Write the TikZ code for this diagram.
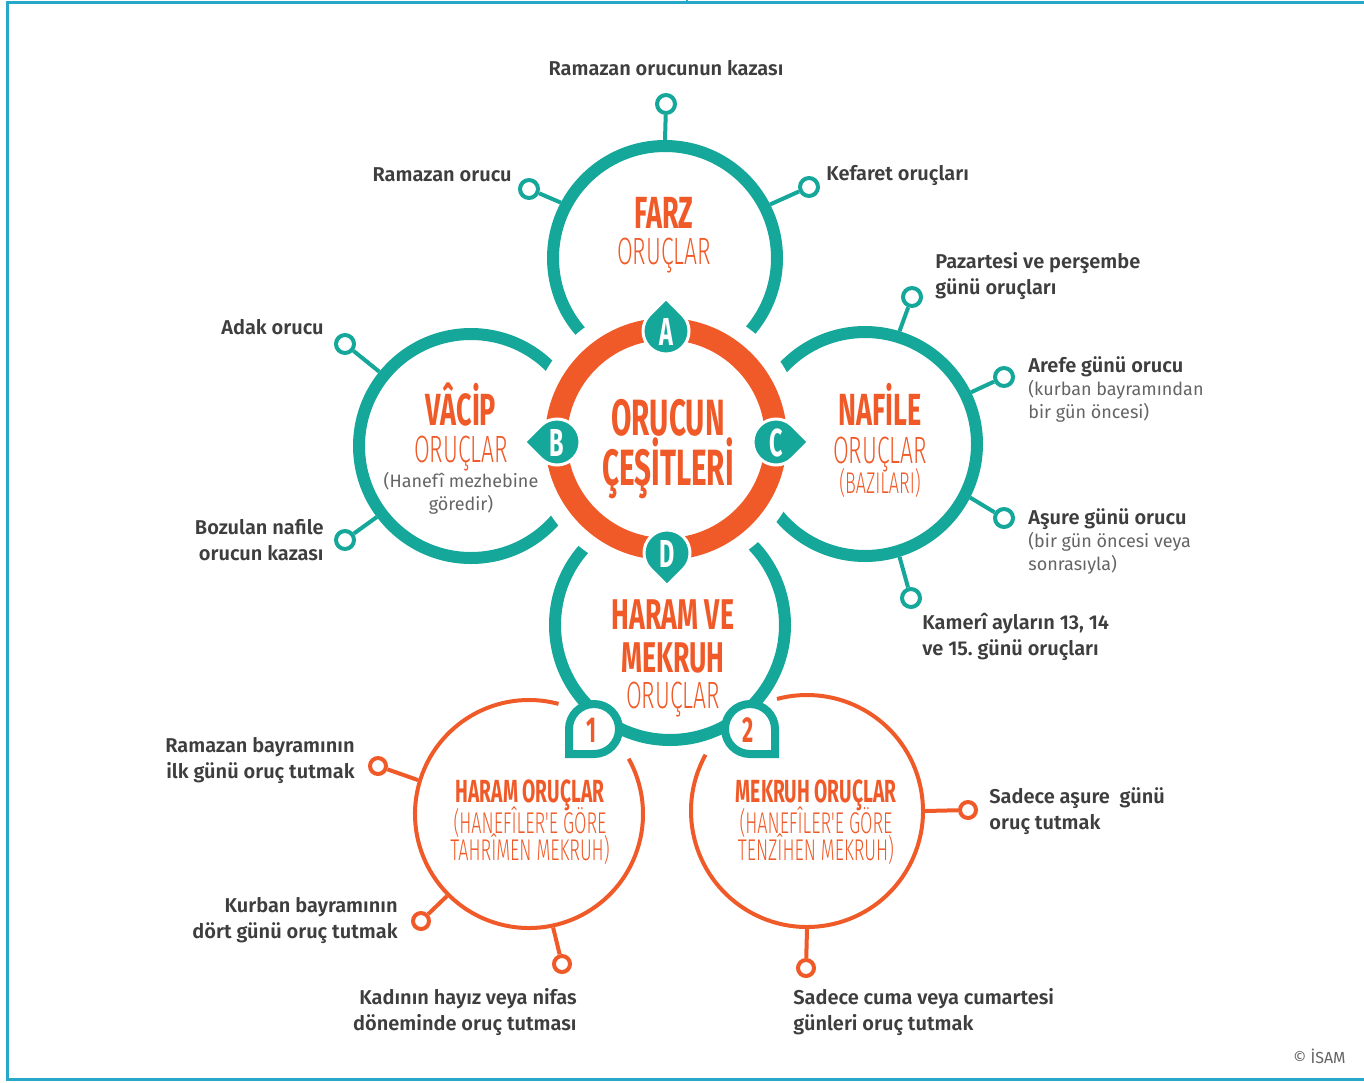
\documentclass[tikz,border=0pt]{standalone}
\usepackage{fontspec}
\setmainfont{Fira Sans}
\newfontfamily\fbold{Fira Sans Bold}
\newfontfamily\flight{Fira Sans Light}
\newfontfamily\fsemi{Fira Sans SemiBold}
\definecolor{tl}{RGB}{20,167,154}
\definecolor{org}{RGB}{240,90,40}
\definecolor{dk}{RGB}{62,62,62}
\definecolor{gr}{RGB}{100,100,100}
\definecolor{bd}{RGB}{40,168,200}
\newcommand\cn[2][0.6]{\scalebox{#1}[1]{#2}}
\newcommand\dropshape[4]{%
  \path[#1, shift={#2}] (#4:{1.4142*#3}) -- ({#4+45}:#3) arc[start angle={#4+45}, delta angle=270, radius=#3] -- cycle;}
\frenchspacing
\begin{document}
\begin{tikzpicture}[x=0.5pt,y=0.5pt,
  bigT/.style={circle,draw=tl,line width=6pt,inner sep=0,minimum size=#1},
  ghostO/.style={circle,line width=2pt,inner sep=0,minimum size=#1},
  tdot/.style={circle,draw=tl,fill=white,line width=2pt,inner sep=0,minimum size=9pt},
  odot/.style={circle,draw=org,fill=white,line width=2pt,inner sep=0,minimum size=8pt},
  tconn/.style={draw=tl,line width=2pt},
  oconn/.style={draw=org,line width=2pt},
  lab/.style={font={\fsemi\fontsize{10}{13}\selectfont},text=dk,inner sep=0},
  gl/.style={font={\fontsize{9}{11.5}\selectfont},text=gr,inner sep=0},
  hB/.style={font={\fbold\fontsize{22.5}{24}\selectfont},text=org,inner sep=0,anchor=base},
  hBs/.style={font={\fbold\fontsize{21.5}{23}\selectfont},text=org,inner sep=0,anchor=base},
  hL/.style={font={\flight\fontsize{19}{20}\selectfont},text=org,inner sep=0,anchor=base},
  hS/.style={font={\flight\fontsize{15}{16}\selectfont},text=org,inner sep=0,anchor=base},
  hM/.style={font={\fbold\fontsize{16}{17}\selectfont},text=org,inner sep=0,anchor=base},
  hC/.style={font={\fbold\fontsize{25.5}{27}\selectfont},text=org,inner sep=0,anchor=base},
  letW/.style={font={\fbold\fontsize{19.5}{20}\selectfont},text=white,inner sep=0,anchor=base},
  numO/.style={font={\fbold\fontsize{18}{19}\selectfont},text=org,inner sep=0,anchor=base}
]
\useasboundingbox (0,0) rectangle (1364,-1082);
% frame
\draw[bd,line width=1.5pt] (1364,-2) -- (7,-2) -- (7,-1079) -- (1364,-1079);
\draw[bd,line width=1pt] (687,0) -- (687,-4);
% teal circles
\node[bigT=112pt] (farz) at (665,-258) {};
\node[bigT=112pt] (vacip) at (471,-446) {};
\node[bigT=112pt] (nafile) at (865,-444) {};
\node[bigT=115pt] (haram) at (670,-625) {};
% gap around the centre ring
\fill[white] (666,-439) circle (138);
\node[circle,draw=org,line width=11pt,inner sep=0,minimum size=110pt] (ring) at (666,-439) {};
% drops A-D
\dropshape{fill=tl,draw=white,line width=1.5pt}{(666,-331)}{23}{90}
\dropshape{fill=tl,draw=white,line width=1.5pt}{(557,-442)}{23}{180}
\dropshape{fill=tl,draw=white,line width=1.5pt}{(776,-442)}{23}{0}
\dropshape{fill=tl,draw=white,line width=1.5pt}{(667,-553)}{23}{270}
\node[letW] (la) at (666,-345) {\cn{A}};
\node[letW] (lb) at (557,-456) {\cn{B}};
\node[letW] (lc) at (776,-456) {\cn{C}};
\node[letW] (ld) at (667,-567) {\cn{D}};
% orange circles
\node[ghostO=114pt] (hor) at (529,-814) {};
\node[ghostO=116pt] (mek) at (807,-811) {};
\draw[org,line width=2pt] (hor.center) ++(75:114) arc[start angle=75, end angle=389, radius=114];
\draw[org,line width=2pt] (mek.center) ++(151:116) arc[start angle=151, end angle=465, radius=116];
% markers 1 and 2
\dropshape{fill=white,draw=tl,line width=4pt}{(594,-729)}{25}{225}
\dropshape{fill=white,draw=tl,line width=4pt}{(750,-729)}{25}{315}
\node[numO] (n1) at (592,-742) {\cn{1}};
\node[numO] (n2) at (748,-742) {\cn{2}};
% connectors: FARZ
\node[tdot] (df1) at (666,-104) {};
\node[tdot] (df2) at (529,-189) {};
\node[tdot] (df3) at (809,-187) {};
\draw[tconn] (farz.90) -- (df1);
\draw[tconn] (farz.152) -- (df2);
\draw[tconn] (farz.27) -- (df3);
% NAFILE
\node[tdot] (dn1) at (912,-297) {};
\node[tdot] (dn2) at (1004,-377) {};
\node[tdot] (dn3) at (1004,-518) {};
\node[tdot] (dn4) at (911,-598) {};
\draw[tconn] (nafile.73) -- (dn1);
\draw[tconn] (nafile.26) -- (dn2);
\draw[tconn] (nafile.-27) -- (dn3);
\draw[tconn] (nafile.-73) -- (dn4);
% VACIP
\node[tdot] (dv1) at (345,-344) {};
\node[tdot] (dv2) at (345,-540) {};
\draw[tconn] (vacip.141) -- (dv1);
\draw[tconn] (vacip.217) -- (dv2);
% HARAM (orange)
\node[odot] (dh1) at (378,-766) {};
\node[odot] (dh2) at (421,-921) {};
\node[odot] (dh3) at (562,-964) {};
\draw[oconn] (hor.163) -- (dh1);
\draw[oconn] (hor.225) -- (dh2);
\draw[oconn] (hor.282) -- (dh3);
% MEKRUH (orange)
\node[odot] (dm1) at (968,-810) {};
\node[odot] (dm2) at (806,-968) {};
\draw[oconn] (mek.0) -- (dm1);
\draw[oconn] (mek.270) -- (dm2);
% circle texts
\node[hB] (tFarz) at (664,-228) {\cn{FARZ}};
\node[hL] (tFarz2) at (664,-264) {\cn{ORUÇLAR}};
\node[hB] (tVac) at (461,-425) {\cn{VÂCİP}};
\node[hL] (tVac2) at (461,-462) {\cn{ORUÇLAR}};
\node[gl,align=center] (tVac3) at (461,-493) {(Hanefî mezhebine\\göredir)};
\node[hB] (tNaf) at (880,-425) {\cn{NAFİLE}};
\node[hL] (tNaf2) at (880,-463) {\cn{ORUÇLAR}};
\node[hS] (tNaf3) at (880,-493) {\cn{(BAZILARI)}};
\node[hC] (tC1) at (668,-435) {\cn[0.58]{ORUCUN}};
\node[hC] (tC2) at (668,-485) {\cn[0.58]{ÇEŞİTLERİ}};
\node[hBs] (tH1) at (673,-629) {\cn[0.62]{HARAM VE}};
\node[hBs] (tH2) at (673,-672) {\cn[0.62]{MEKRUH}};
\node[hL] (tH3) at (673,-708) {\cn{ORUÇLAR}};
\node[hM] (tHa1) at (530,-802) {\cn{HARAM ORUÇLAR}};
\node[hS] (tHa2) at (530,-833) {\cn{(HANEFÎLER'E GÖRE}};
\node[hS] (tHa3) at (530,-860) {\cn{TAHRÎMEN MEKRUH)}};
\node[hM] (tMe1) at (816,-802) {\cn{MEKRUH ORUÇLAR}};
\node[hS] (tMe2) at (816,-833) {\cn{(HANEFÎLER'E GÖRE}};
\node[hS] (tMe3) at (816,-860) {\cn{TENZÎHEN MEKRUH)}};
% outer labels
\node[lab] (L1) at (666,-68) {Ramazan orucunun kazası};
\node[lab,anchor=east] (L2) at (512,-175) {Ramazan orucu};
\node[lab,anchor=west] (L3) at (826,-175) {Kefaret oruçları};
\node[lab,anchor=west,align=left] (L4) at (935,-276) {Pazartesi ve perşembe\\günü oruçları};
\node[lab,anchor=west] (L5) at (1028,-367) {Arefe günü orucu};
\node[gl,anchor=west,align=left] (L5g) at (1028,-401) {(kurban bayramından\\bir gün öncesi)};
\node[lab,anchor=west] (L6) at (1028,-519) {Aşure günü orucu};
\node[gl,anchor=west,align=left] (L6g) at (1028,-553) {(bir gün öncesi veya\\sonrasıyla)};
\node[lab,anchor=west,align=left] (L7) at (922,-637) {Kamerî ayların 13, 14\\ve 15. günü oruçları};
\node[lab,anchor=east] (L8) at (324,-327) {Adak orucu};
\node[lab,anchor=east,align=right] (L9) at (324,-540) {Bozulan nafile\\orucun kazası};
\node[lab,anchor=east,align=right] (L10) at (355,-760) {Ramazan bayramının\\ilk günü oruç tutmak};
\node[lab,anchor=east,align=right] (L11) at (398,-920) {Kurban bayramının\\dört günü oruç tutmak};
\node[lab,anchor=east,align=right] (L12) at (577,-1012) {Kadının hayız veya nifas\\döneminde oruç tutması};
\node[lab,anchor=west,align=left] (L13) at (989,-811) {Sadece aşure\ \ günü\\oruç tutmak};
\node[lab,anchor=west,align=left] (L14) at (793,-1012) {Sadece cuma veya cumartesi\\günleri oruç tutmak};
\node[font={\fontsize{8}{9}\selectfont},text=gr,inner sep=0,anchor=east] (copy) at (1346,-1056) {© İSAM};
\end{tikzpicture}
\end{document}
